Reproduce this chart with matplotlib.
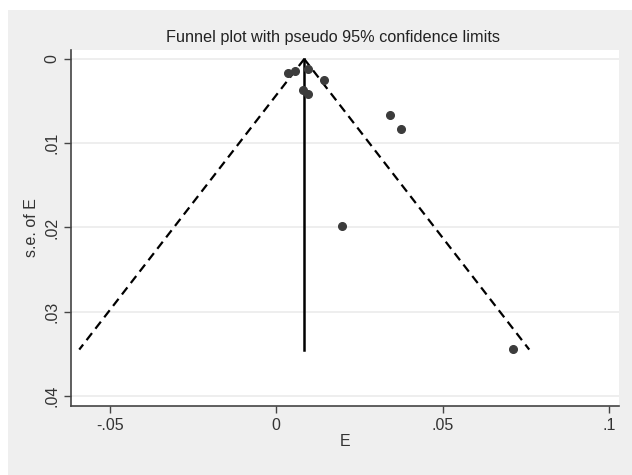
import numpy as np
import matplotlib
matplotlib.use("Agg")
from matplotlib import pyplot as plt
from matplotlib.patches import Rectangle

plt.rcParams['font.family'] = ['Liberation Sans', 'DejaVu Sans']

# study estimates (E) and their standard errors
effect = [0.0035, 0.0055, 0.0095, 0.0143, 0.0080, 0.0095, 0.0342, 0.0375, 0.0197, 0.0712]
se = [0.0017, 0.00142, 0.00122, 0.0025, 0.0037, 0.0042, 0.00665, 0.0083, 0.0198, 0.0344]

pooled = 0.0084      # fixed effect estimate
se_max = 0.0345      # bottom of the funnel

xticks = [-0.05, 0, 0.05, 0.1]
xtick_labels = ['-.05', '0', '.05', '.1']
yticks = [0, 0.01, 0.02, 0.03, 0.04]
ytick_labels = ['0', '.01', '.02', '.03', '.04']

fig = plt.figure(figsize=(6.32, 4.75), dpi=100)
fig.patch.set_facecolor('white')
# stata style grey panel behind everything
fig.add_artist(Rectangle((8 / 632, 0), 1, 465 / 475, transform=fig.transFigure,
                         facecolor='#efefef', edgecolor='none', zorder=-10))

ax = fig.add_axes([71 / 632, 69 / 475, 548 / 632, 356 / 475])
ax.set_facecolor('white')

# pseudo 95% limits
s = np.array([0, se_max])
ax.plot(pooled - 1.96 * s, s, color='black', lw=1.6, ls=(0, (4, 2.5)))
ax.plot(pooled + 1.96 * s, s, color='black', lw=1.6, ls=(0, (4, 2.5)))
ax.plot([pooled, pooled], [0, se_max], color='black', lw=1.8)

ax.plot(effect, se, 'o', color='#3c3c3c', ms=5.5, zorder=3)

ax.set_xlim(-0.0617, 0.103)
ax.set_ylim(0.0412, -0.00107)

ax.set_xticks(xticks)
ax.set_xticklabels(xtick_labels, fontsize=11.5, color='#333333')
ax.set_yticks(yticks)
ax.set_yticklabels(ytick_labels, fontsize=11.5, color='#333333', rotation=90, va='center')
ax.tick_params(direction='out', length=5, width=1, color='#444444')
ax.yaxis.grid(True, color='#ebebeb', lw=1.2)
ax.set_axisbelow(True)

for side in ['top', 'right']:
    ax.spines[side].set_visible(False)
for side in ['left', 'bottom']:
    ax.spines[side].set_color('#444444')
    ax.spines[side].set_linewidth(1.2)

ax.set_xlabel('E', fontsize=11.5, color='#333333', labelpad=1)
ax.set_ylabel('s.e. of E', fontsize=11.5, color='#333333', labelpad=4)
# title sits a little left of the plot centre in the original
ax.set_title('Funnel plot with pseudo 95% confidence limits', fontsize=11.7,
             color='#222222', pad=6, x=0.478)

fig.savefig('out.png', dpi=100)
